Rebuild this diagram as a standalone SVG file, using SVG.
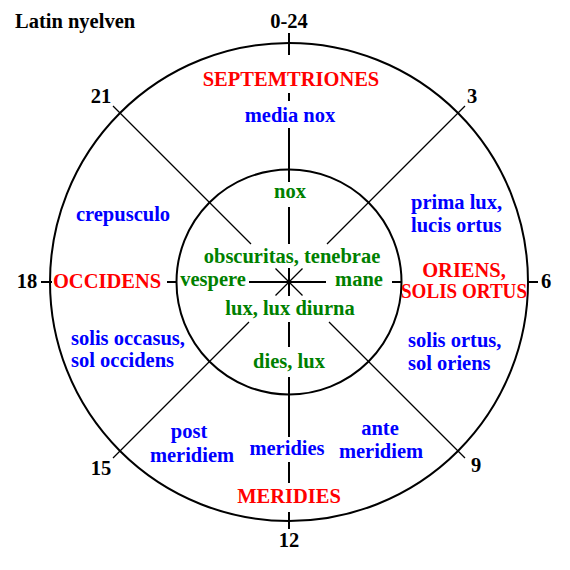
<svg xmlns="http://www.w3.org/2000/svg" width="570" height="570" viewBox="0 0 570 570">
<style>
text{font-family:"Liberation Serif","Times New Roman",serif;font-weight:bold;font-size:20.5px}
.c{text-anchor:middle}
.k{fill:#000}
.r{fill:#ff0000}
.b{fill:#0000ff}
.g{fill:#008000}
.ring{fill:none;stroke:#000;stroke-width:2}
.ax{stroke:#000;stroke-width:2;fill:none}
.dg{stroke:#000;stroke-width:1.3;fill:none}
</style>
<rect width="570" height="570" fill="#fff"/>
<g id="outer-circle"><circle class="ring" cx="289" cy="282" r="239"/></g>
<g id="inner-circle"><circle class="ring" cx="289" cy="282" r="112.5"/></g>
<g id="connectors">
<path class="ax" d="M289 33V55M289 93V101M289 128V182M289 207V244M289 268V296M289 322V347M289 377V437M289 462V483M289 512V529"/>
<path class="ax" d="M41 282H52M167 282H177M249 282H326M392 282H402M527 282H538"/>
<path class="dg" d="M113 106L251 244M465 106L327 244M113 458L249 322M465 458L329 322M275.5 268.5L302.5 295.5M302.5 268.5L275.5 295.5"/>
</g>
<g id="title"><text class="k" x="15" y="28">Latin nyelven</text></g>
<g id="hours">
<text class="k c" x="289" y="28">0-24</text>
<text class="k c" x="101" y="103">21</text>
<text class="k c" x="472" y="103">3</text>
<text class="k c" x="27" y="288">18</text>
<text class="k c" x="546" y="288">6</text>
<text class="k c" x="101" y="475">15</text>
<text class="k c" x="476" y="472">9</text>
<text class="k c" x="289" y="547">12</text>
</g>
<g id="directions">
<text class="r c" x="291" y="86">SEPTEMTRIONES</text>
<text class="r c" x="107" y="288">OCCIDENS</text>
<text class="r c" x="464" y="277">ORIENS,</text>
<text class="r" x="401" y="298" textLength="126" lengthAdjust="spacingAndGlyphs">SOLIS ORTUS</text>
<text class="r c" x="289" y="503">MERIDIES</text>
</g>
<g id="outer-labels">
<text class="b c" x="290" y="122">media nox</text>
<text class="b c" x="123" y="221">crepusculo</text>
<text class="b" x="411" y="209">prima lux,</text>
<text class="b" x="411" y="232">lucis ortus</text>
<text class="b" x="71" y="345">solis occasus,</text>
<text class="b" x="71" y="367">sol occidens</text>
<text class="b" x="408" y="347">solis ortus,</text>
<text class="b" x="408" y="370">sol oriens</text>
<text class="b c" x="189" y="438">post</text>
<text class="b c" x="192" y="462">meridiem</text>
<text class="b c" x="287" y="455">meridies</text>
<text class="b c" x="380" y="435">ante</text>
<text class="b c" x="381" y="458">meridiem</text>
</g>
<g id="inner-labels">
<text class="g c" x="290" y="198">nox</text>
<text class="g c" x="292" y="263">obscuritas, tenebrae</text>
<text class="g c" x="213" y="286">vespere</text>
<text class="g c" x="359" y="286">mane</text>
<text class="g c" x="290" y="315">lux, lux diurna</text>
<text class="g c" x="289" y="368">dies, lux</text>
</g>
</svg>
